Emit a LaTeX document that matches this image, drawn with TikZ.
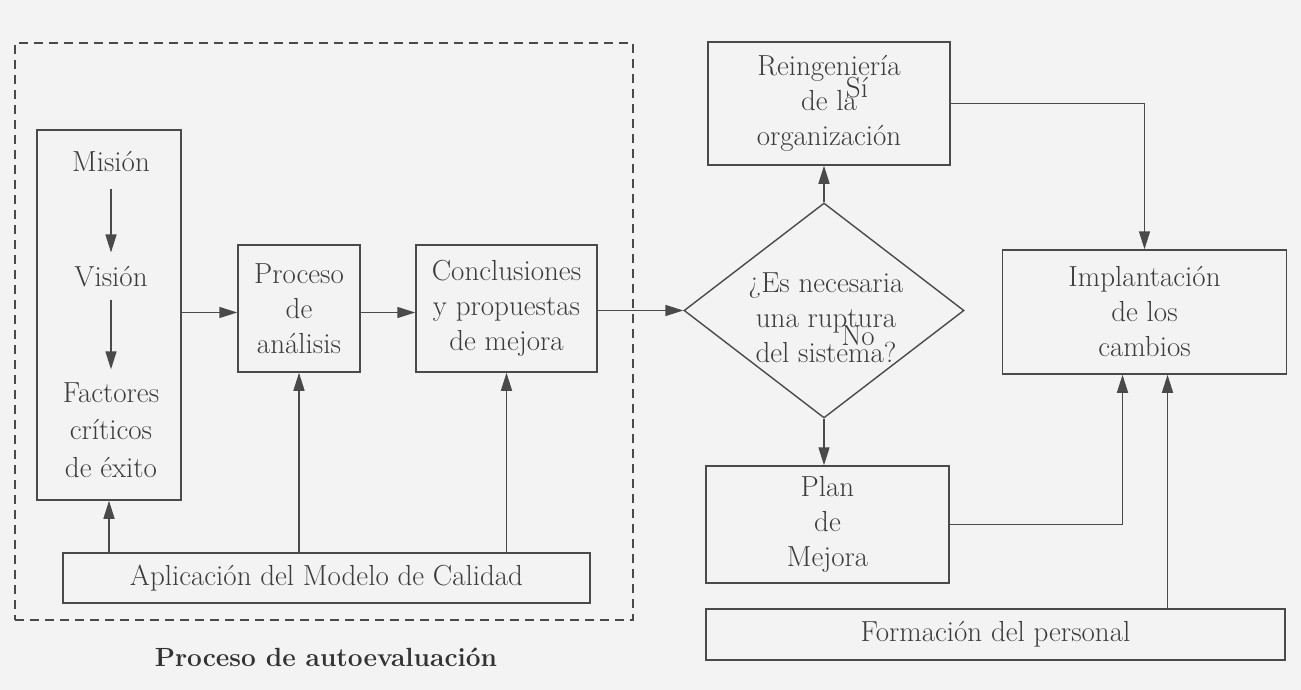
\documentclass[tikz,border=0pt]{standalone}
\usetikzlibrary{shapes.geometric,arrows.meta}
\definecolor{ink}{HTML}{3C3C3C}
\definecolor{linec}{HTML}{4A4A4A}
\definecolor{paper}{HTML}{F3F3F3}
\begin{document}
\begin{tikzpicture}[x=1pt,y=-1pt,
  box/.style={draw=linec,line width=1.5pt,rectangle,inner sep=0pt},
  txt/.style={text=ink,font=\fontsize{29}{35}\selectfont,align=center,inner sep=0pt},
  conn/.style={draw=linec,line width=1.5pt,-{Triangle[length=18pt,width=11pt]}},
  plain/.style={draw=linec,line width=1.5pt}]
\fill[paper] (0,0) rectangle (1301,690);
\useasboundingbox (0,0) rectangle (1301,690);

% dashed frame of self-evaluation
\node[draw=linec,line width=1.3pt,dash pattern=on 9pt off 6pt,rectangle,minimum width=618pt,minimum height=577pt,inner sep=0pt] (autoeval) at (324,331.5) {};
\node[text=ink!85!black,font=\bfseries\fontsize{26.3}{30}\selectfont,inner sep=0pt] (title) at (326,657) {Proceso de autoevaluación};

% left column
\node[box,minimum width=144pt,minimum height=370pt] (fuentes) at (109,315) {};
\node[txt] (mision) at (111,162) {Misión};
\node[txt] (vision) at (111,277) {Visión};
\node[txt,font=\fontsize{29}{37.5}\selectfont] (factores) at (111,430) {Factores\\críticos\\de éxito};
\draw[conn,shorten <=17pt,shorten >=14pt] (mision) -- (vision);
\draw[conn,shorten <=12pt,shorten >=13pt] (vision) -- (factores);

\node[box,txt,minimum width=122pt,minimum height=127pt] (proceso) at (299,308.5) {Proceso\\de\\análisis};
\node[box,txt,minimum width=181pt,minimum height=127pt] (concl) at (506.5,308.5) {Conclusiones\\y propuestas\\de mejora};
\node[box,txt,minimum width=527pt,minimum height=50pt] (aplic) at (326.5,578) {Aplicación del Modelo de Calidad};

\coordinate (p1) at ([yshift=-4pt]proceso.west);
\coordinate (c1) at ([yshift=-4pt]concl.west);
\draw[conn] (fuentes.east |- p1) -- (p1);
\draw[conn] (proceso.east |- c1) -- (c1);

\draw[conn] (aplic.north -| fuentes.south) -- (fuentes.south);
\draw[conn] (aplic.north -| proceso.south) -- (proceso.south);
\draw[conn] (aplic.north -| concl.south) -- (concl.south);

% decision
\node[diamond,draw=linec,line width=1.4pt,minimum width=280pt,minimum height=215pt,inner sep=0pt] (dec) at (824,310.5) {};
\node[txt] (pregunta) at (826,318) {¿Es necesaria\\una ruptura\\del sistema?};
\draw[conn] (concl.east |- dec.west) -- (dec.west);

\node[box,txt,minimum width=242pt,minimum height=123pt] (reing) at (829,103.5) {Reingeniería\\de la\\organización};
\node[box,txt,minimum width=243pt,minimum height=117pt] (plan) at (827.5,524.5) {Plan\\de\\Mejora};
\node[box,txt,minimum width=284pt,minimum height=124pt] (implant) at (1144.5,312) {Implantación\\de los\\cambios};
\node[box,txt,minimum width=579pt,minimum height=51pt] (formacion) at (995.5,634.5) {Formación del personal};

\node[txt] (si) at (857,88) {Sí};
\node[txt] (no) at (858,336) {No};

\draw[conn] (dec.north) -- (dec.north |- reing.south);
\draw[conn] (dec.south) -- (dec.south |- plan.north);
\draw[conn] (reing.east) -| (implant.north);
\coordinate (i1) at ([xshift=-22pt]implant.south);
\coordinate (i2) at ([xshift=23pt]implant.south);
\draw[conn] (plan.east) -| (i1);
\draw[conn] (formacion.north -| i2) -- (i2);
\end{tikzpicture}
\end{document}
